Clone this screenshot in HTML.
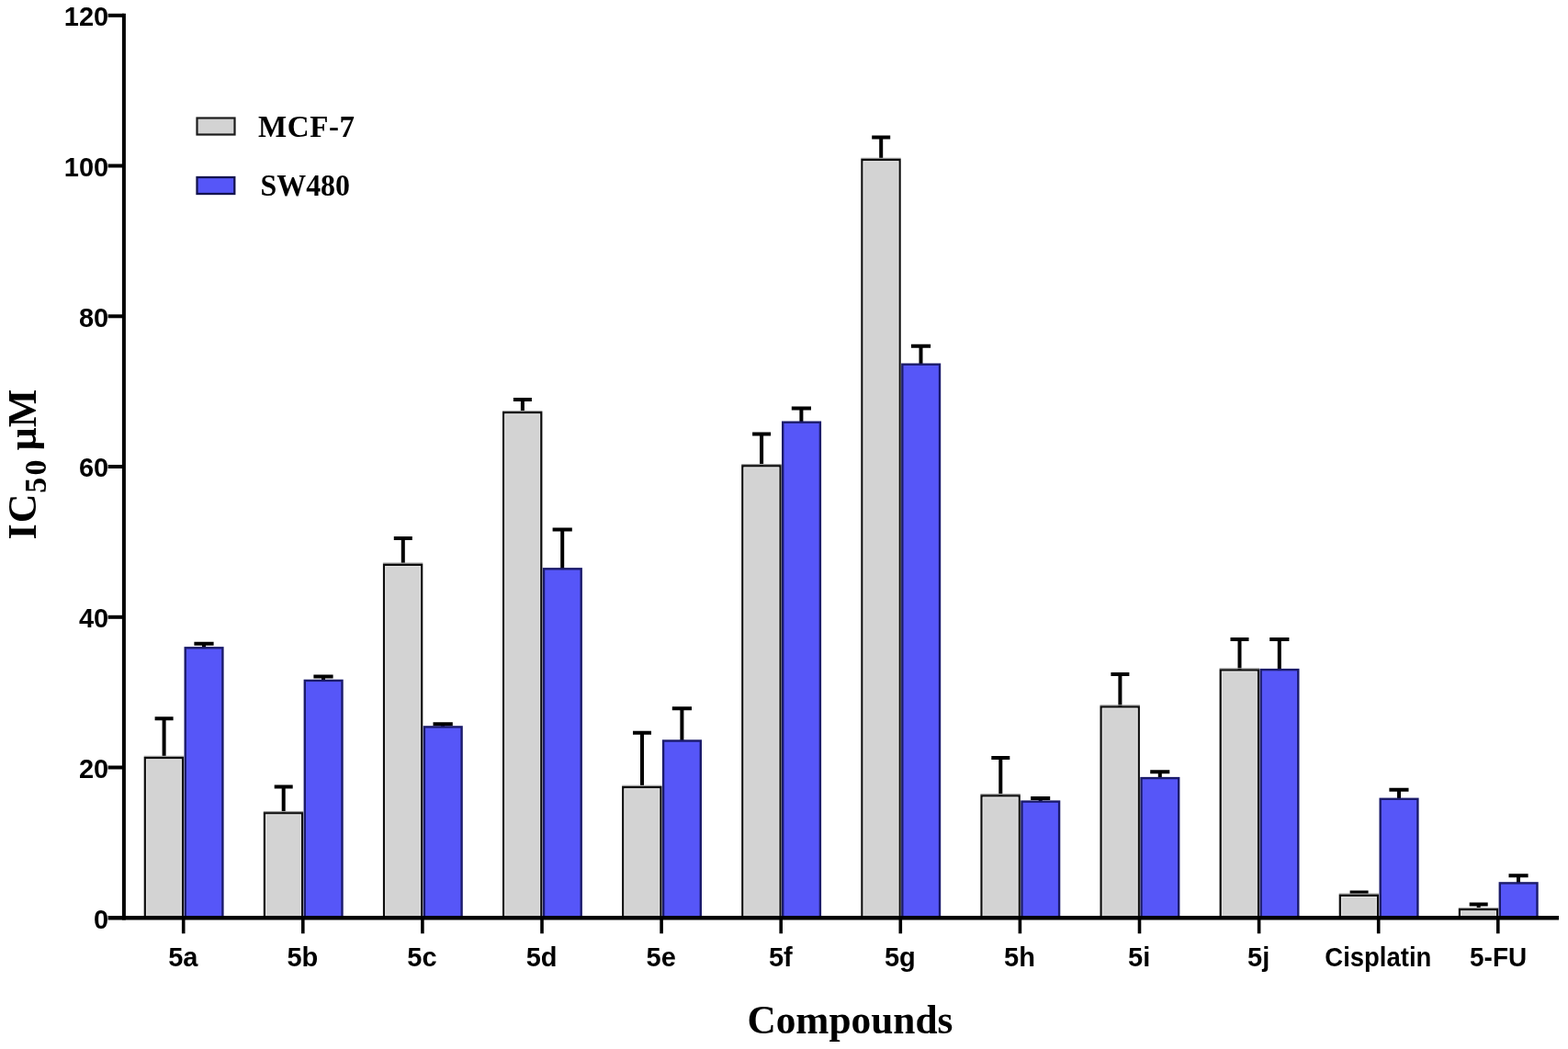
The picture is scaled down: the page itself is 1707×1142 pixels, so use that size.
<!DOCTYPE html>
<html lang="en">
<head>
<meta charset="utf-8">
<title>IC50 of compounds 5a-5j against MCF-7 and SW480</title>
<style>
html,body{margin:0;padding:0;background:#fff;}
body{width:1707px;height:1142px;overflow:hidden;}
svg{display:block;filter:blur(0.4px);}
.tick{font-family:"Liberation Sans",Arial,sans-serif;font-weight:bold;font-size:29px;fill:#000;}
.ser{font-family:"Liberation Serif","Times New Roman",serif;font-weight:bold;fill:#000;}
</style>
</head>
<body>
<svg width="1707" height="1142" viewBox="0 0 1707 1142">
<rect x="0" y="0" width="1707" height="1142" fill="#fff"/>

<g id="bars">
<path d="M168.6 782.2H188.6M178.6 782.2V824.5" stroke="#000" stroke-width="4" fill="none"/>
<path d="M156.7 823.5H200.1" stroke="#a0a0a0" stroke-width="1.4" fill="none"/>
<rect x="157.8" y="825.1" width="41.2" height="174.2" fill="#d3d3d3" stroke="#0c0c0c" stroke-width="2.2"/>
<rect x="159.6" y="826.9" width="37.6" height="172.4" fill="none" stroke="#e2e2e2" stroke-width="1"/>
<path d="M211.4 700.7H232.6M222.0 700.7V705.1" stroke="#000" stroke-width="4" fill="none"/>
<rect x="201.7" y="705.3" width="40.7" height="294.0" fill="#5656f8" stroke="#1b1b6b" stroke-width="2.4"/>
<path d="M298.7 856.4H318.7M308.7 856.4V884.7" stroke="#000" stroke-width="4" fill="none"/>
<path d="M286.8 883.7H330.2" stroke="#a0a0a0" stroke-width="1.4" fill="none"/>
<rect x="287.9" y="885.3" width="41.2" height="114.0" fill="#d3d3d3" stroke="#0c0c0c" stroke-width="2.2"/>
<rect x="289.7" y="887.1" width="37.6" height="112.2" fill="none" stroke="#e2e2e2" stroke-width="1"/>
<path d="M341.4 736.5H362.6M352.0 736.5V740.7" stroke="#000" stroke-width="4" fill="none"/>
<rect x="331.8" y="740.9" width="40.7" height="258.4" fill="#5656f8" stroke="#1b1b6b" stroke-width="2.4"/>
<path d="M428.8 586.0H448.8M438.8 586.0V614.3" stroke="#000" stroke-width="4" fill="none"/>
<path d="M416.9 613.3H460.3" stroke="#a0a0a0" stroke-width="1.4" fill="none"/>
<rect x="418.0" y="614.9" width="41.2" height="384.4" fill="#d3d3d3" stroke="#0c0c0c" stroke-width="2.2"/>
<rect x="419.8" y="616.7" width="37.6" height="382.6" fill="none" stroke="#e2e2e2" stroke-width="1"/>
<path d="M471.5 788.2H492.8M482.1 788.2V791.2" stroke="#000" stroke-width="4" fill="none"/>
<rect x="461.9" y="791.4" width="40.7" height="207.9" fill="#5656f8" stroke="#1b1b6b" stroke-width="2.4"/>
<path d="M558.9 435.1H578.9M568.9 435.1V448.6" stroke="#000" stroke-width="4" fill="none"/>
<path d="M547.0 447.6H590.4" stroke="#a0a0a0" stroke-width="1.4" fill="none"/>
<rect x="548.1" y="449.2" width="41.2" height="550.1" fill="#d3d3d3" stroke="#0c0c0c" stroke-width="2.2"/>
<rect x="549.9" y="451.0" width="37.6" height="548.3" fill="none" stroke="#e2e2e2" stroke-width="1"/>
<path d="M601.6 576.5H622.8M612.2 576.5V619.1" stroke="#000" stroke-width="4" fill="none"/>
<rect x="592.0" y="619.3" width="40.7" height="380.0" fill="#5656f8" stroke="#1b1b6b" stroke-width="2.4"/>
<path d="M689.0 797.8H709.0M699.0 797.8V856.5" stroke="#000" stroke-width="4" fill="none"/>
<path d="M677.1 855.5H720.5" stroke="#a0a0a0" stroke-width="1.4" fill="none"/>
<rect x="678.2" y="857.1" width="41.2" height="142.2" fill="#d3d3d3" stroke="#0c0c0c" stroke-width="2.2"/>
<rect x="680.0" y="858.9" width="37.6" height="140.4" fill="none" stroke="#e2e2e2" stroke-width="1"/>
<path d="M731.8 771.3H753.0M742.4 771.3V806.3" stroke="#000" stroke-width="4" fill="none"/>
<rect x="722.1" y="806.5" width="40.7" height="192.8" fill="#5656f8" stroke="#1b1b6b" stroke-width="2.4"/>
<path d="M819.1 472.4H839.1M829.1 472.4V506.7" stroke="#000" stroke-width="4" fill="none"/>
<path d="M807.2 505.7H850.6" stroke="#a0a0a0" stroke-width="1.4" fill="none"/>
<rect x="808.3" y="507.3" width="41.2" height="492.0" fill="#d3d3d3" stroke="#0c0c0c" stroke-width="2.2"/>
<rect x="810.1" y="509.1" width="37.6" height="490.2" fill="none" stroke="#e2e2e2" stroke-width="1"/>
<path d="M861.8 444.5H883.0M872.4 444.5V459.5" stroke="#000" stroke-width="4" fill="none"/>
<rect x="852.2" y="459.7" width="40.7" height="539.6" fill="#5656f8" stroke="#1b1b6b" stroke-width="2.4"/>
<path d="M949.2 149.4H969.2M959.2 149.4V173.4" stroke="#000" stroke-width="4" fill="none"/>
<path d="M937.3 172.4H980.7" stroke="#a0a0a0" stroke-width="1.4" fill="none"/>
<rect x="938.4" y="174.0" width="41.2" height="825.3" fill="#d3d3d3" stroke="#0c0c0c" stroke-width="2.2"/>
<rect x="940.2" y="175.8" width="37.6" height="823.5" fill="none" stroke="#e2e2e2" stroke-width="1"/>
<path d="M991.9 376.7H1013.1M1002.5 376.7V396.5" stroke="#000" stroke-width="4" fill="none"/>
<rect x="982.3" y="396.7" width="40.7" height="602.6" fill="#5656f8" stroke="#1b1b6b" stroke-width="2.4"/>
<path d="M1079.3 824.9H1099.3M1089.3 824.9V865.8" stroke="#000" stroke-width="4" fill="none"/>
<path d="M1067.4 864.8H1110.8" stroke="#a0a0a0" stroke-width="1.4" fill="none"/>
<rect x="1068.5" y="866.4" width="41.2" height="132.9" fill="#d3d3d3" stroke="#0c0c0c" stroke-width="2.2"/>
<rect x="1070.3" y="868.2" width="37.6" height="131.1" fill="none" stroke="#e2e2e2" stroke-width="1"/>
<path d="M1122.1 869.0H1143.2M1132.7 869.0V872.4" stroke="#000" stroke-width="4" fill="none"/>
<rect x="1112.4" y="872.6" width="40.7" height="126.7" fill="#5656f8" stroke="#1b1b6b" stroke-width="2.4"/>
<path d="M1209.4 733.9H1229.4M1219.4 733.9V768.9" stroke="#000" stroke-width="4" fill="none"/>
<path d="M1197.5 767.9H1240.9" stroke="#a0a0a0" stroke-width="1.4" fill="none"/>
<rect x="1198.6" y="769.5" width="41.2" height="229.8" fill="#d3d3d3" stroke="#0c0c0c" stroke-width="2.2"/>
<rect x="1200.4" y="771.3" width="37.6" height="228.0" fill="none" stroke="#e2e2e2" stroke-width="1"/>
<path d="M1252.2 840.3H1273.3M1262.8 840.3V846.9" stroke="#000" stroke-width="4" fill="none"/>
<rect x="1242.5" y="847.1" width="40.7" height="152.2" fill="#5656f8" stroke="#1b1b6b" stroke-width="2.4"/>
<path d="M1339.5 696.0H1359.5M1349.5 696.0V728.9" stroke="#000" stroke-width="4" fill="none"/>
<path d="M1327.6 727.9H1371.0" stroke="#a0a0a0" stroke-width="1.4" fill="none"/>
<rect x="1328.7" y="729.5" width="41.2" height="269.8" fill="#d3d3d3" stroke="#0c0c0c" stroke-width="2.2"/>
<rect x="1330.5" y="731.3" width="37.6" height="268.0" fill="none" stroke="#e2e2e2" stroke-width="1"/>
<path d="M1382.2 696.0H1403.4M1392.8 696.0V728.9" stroke="#000" stroke-width="4" fill="none"/>
<rect x="1372.6" y="729.1" width="40.7" height="270.2" fill="#5656f8" stroke="#1b1b6b" stroke-width="2.4"/>
<path d="M1469.6 971.5H1489.6M1479.6 971.5V974.3" stroke="#000" stroke-width="4" fill="none"/>
<path d="M1457.7 973.3H1501.1" stroke="#a0a0a0" stroke-width="1.4" fill="none"/>
<rect x="1458.8" y="974.9" width="41.2" height="24.4" fill="#d3d3d3" stroke="#0c0c0c" stroke-width="2.2"/>
<rect x="1460.6" y="976.7" width="37.6" height="22.6" fill="none" stroke="#e2e2e2" stroke-width="1"/>
<path d="M1512.4 859.7H1533.5M1523.0 859.7V869.6" stroke="#000" stroke-width="4" fill="none"/>
<rect x="1502.7" y="869.8" width="40.7" height="129.5" fill="#5656f8" stroke="#1b1b6b" stroke-width="2.4"/>
<path d="M1599.7 984.6H1619.7M1609.7 984.6V989.6" stroke="#000" stroke-width="4" fill="none"/>
<path d="M1587.8 988.6H1631.2" stroke="#a0a0a0" stroke-width="1.4" fill="none"/>
<rect x="1588.9" y="990.2" width="41.2" height="9.1" fill="#d3d3d3" stroke="#0c0c0c" stroke-width="2.2"/>
<rect x="1590.7" y="992.0" width="37.6" height="7.3" fill="none" stroke="#e2e2e2" stroke-width="1"/>
<path d="M1642.5 953.2H1663.6M1653.0 953.2V961.2" stroke="#000" stroke-width="4" fill="none"/>
<rect x="1632.8" y="961.4" width="40.7" height="37.9" fill="#5656f8" stroke="#1b1b6b" stroke-width="2.4"/>
</g>
<g id="axes" stroke="#000" fill="none">
<path d="M134.9 14.8V1001.5" stroke-width="4"/>
<path d="M117.6 999.3H1697" stroke-width="4.4"/>
<path d="M117.6 835.5H134.9" stroke-width="4"/>
<path d="M117.6 671.8H134.9" stroke-width="4"/>
<path d="M117.6 508.0H134.9" stroke-width="4"/>
<path d="M117.6 344.3H134.9" stroke-width="4"/>
<path d="M117.6 180.5H134.9" stroke-width="4"/>
<path d="M117.6 16.8H134.9" stroke-width="4"/>
<path d="M199.7 999.3V1016.3" stroke-width="3.6"/>
<path d="M329.8 999.3V1016.3" stroke-width="3.6"/>
<path d="M459.9 999.3V1016.3" stroke-width="3.6"/>
<path d="M590.0 999.3V1016.3" stroke-width="3.6"/>
<path d="M720.1 999.3V1016.3" stroke-width="3.6"/>
<path d="M850.2 999.3V1016.3" stroke-width="3.6"/>
<path d="M980.3 999.3V1016.3" stroke-width="3.6"/>
<path d="M1110.4 999.3V1016.3" stroke-width="3.6"/>
<path d="M1240.5 999.3V1016.3" stroke-width="3.6"/>
<path d="M1370.6 999.3V1016.3" stroke-width="3.6"/>
<path d="M1500.7 999.3V1016.3" stroke-width="3.6"/>
<path d="M1630.8 999.3V1016.3" stroke-width="3.6"/>
</g>
<g class="tick" text-anchor="end">
<text x="118.2" y="1010.5">0</text>
<text x="118.2" y="846.8">20</text>
<text x="118.2" y="683.0">40</text>
<text x="118.2" y="519.2">60</text>
<text x="118.2" y="355.5">80</text>
<text x="118.2" y="191.7">100</text>
<text x="118.2" y="28.0">120</text>
</g>
<g class="tick" text-anchor="middle">
<text x="199.3" y="1052">5a</text>
<text x="329.4" y="1052">5b</text>
<text x="459.5" y="1052">5c</text>
<text x="589.6" y="1052">5d</text>
<text x="719.7" y="1052">5e</text>
<text x="849.8" y="1052">5f</text>
<text x="979.9" y="1052">5g</text>
<text x="1110.0" y="1052">5h</text>
<text x="1240.1" y="1052">5i</text>
<text x="1370.2" y="1052">5j</text>
<text x="1500.3" y="1052" textLength="116" lengthAdjust="spacingAndGlyphs">Cisplatin</text>
<text x="1631.1" y="1052" textLength="62" lengthAdjust="spacingAndGlyphs">5-FU</text>
</g>
<g id="legend">
<rect x="214.5" y="128.5" width="41" height="18" fill="#d3d3d3" stroke="#1c1c1c" stroke-width="2.2"/>
<rect x="214.5" y="193" width="40.8" height="18" fill="#5656f8" stroke="#14144e" stroke-width="2.3"/>
<text class="ser" x="281" y="149" font-size="33" textLength="105" lengthAdjust="spacing">MCF-7</text>
<text class="ser" x="283.5" y="213" font-size="33" textLength="97.5" lengthAdjust="spacingAndGlyphs">SW480</text>
</g>
<text class="ser" x="813.4" y="1125" font-size="44" textLength="224" lengthAdjust="spacingAndGlyphs">Compounds</text>
<g transform="translate(39.2 587.4) rotate(-90)"><text class="ser" font-size="44" x="0" y="0" dx="0 1">IC<tspan font-size="34" dy="10.7" dx="0.8 2.2">50</tspan><tspan dy="-10.7" dx="-1"> µM</tspan></text></g>
</svg>
</body>
</html>
